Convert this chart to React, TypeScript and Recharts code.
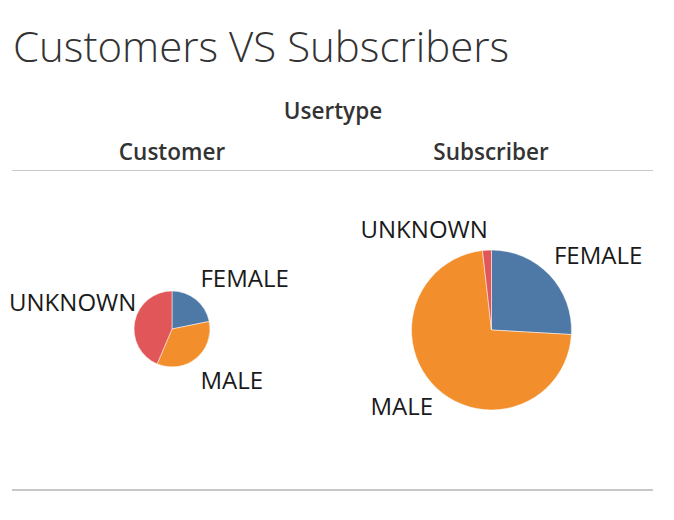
import { Cell, Pie, PieChart } from 'recharts';

const genders = ['FEMALE', 'MALE', 'UNKNOWN'];
const customerShare = [21.8, 34.6, 43.6];
const subscriberShare = [25.9, 72.3, 1.8];
const genderColors = ['#4e79a7', '#f28e2b', '#e15759'];

const customerData = genders.map((g, i) => ({ name: g, value: customerShare[i] }));
const subscriberData = genders.map((g, i) => ({ name: g, value: subscriberShare[i] }));

const RAD = Math.PI / 180;
const FONT = '"Open Sans", sans-serif';

// tableau-ish label placement: outside the slice, nudged per slice
type Nudge = { dx: number; dy: number; anchor?: 'start' | 'end' };

function makeLabel(nudges: Record<string, Nudge>, dist: number) {
  return (props: any) => {
    const { cx, cy, midAngle, outerRadius, name } = props;
    const r = outerRadius + dist;
    const x = cx + r * Math.cos(-midAngle * RAD);
    const y = cy + r * Math.sin(-midAngle * RAD);
    const n = nudges[name] || { dx: 0, dy: 0 };
    const anchor = n.anchor || (x >= cx ? 'start' : 'end');
    return (
      <text
        x={x + n.dx}
        y={y + n.dy}
        textAnchor={anchor}
        dominantBaseline="central"
        fill="#1a1a1a"
        style={{ fontFamily: FONT, fontSize: 24 }}
      >
        {name}
      </text>
    );
  };
}

const customerLabel = makeLabel(
  {
    FEMALE: { dx: -12, dy: -2 },
    MALE: { dx: -12, dy: 1 },
    UNKNOWN: { dx: 27, dy: -15, anchor: 'end' },
  },
  26,
);
const subscriberLabel = makeLabel(
  {
    FEMALE: { dx: -11, dy: -6 },
    MALE: { dx: 11, dy: 2 },
    UNKNOWN: { dx: 2, dy: -1, anchor: 'end' },
  },
  21,
);

const header: React.CSSProperties = {
  position: 'absolute',
  fontFamily: FONT,
  fontWeight: 600,
  fontSize: 22.5,
  color: '#333',
  transform: 'translateX(-50%)',
  whiteSpace: 'nowrap',
  lineHeight: '24px',
};

export default function App() {
  return (
    <div style={{ position: 'absolute', left: 0, top: 0, width: 674, height: 520, background: '#fff' }}>
      <div
        style={{
          position: 'absolute',
          left: 13,
          top: 18,
          fontFamily: FONT,
          fontWeight: 300,
          fontSize: 42,
          color: '#333',
          lineHeight: '56px',
          whiteSpace: 'nowrap',
        }}
      >
        Customers VS Subscribers
      </div>
      <div style={{ ...header, left: 333, top: 99 }}>Usertype</div>
      <div style={{ ...header, left: 172, top: 140 }}>Customer</div>
      <div style={{ ...header, left: 491, top: 140 }}>Subscriber</div>
      <div style={{ position: 'absolute', left: 12, top: 170, width: 641, height: 1, background: '#c8c8c8' }} />
      <div style={{ position: 'absolute', left: 12, top: 489, width: 641, height: 2, background: '#c8c8c8' }} />

      <div style={{ position: 'absolute', left: 0, top: 0 }}>
        <PieChart width={674} height={520} margin={{ top: 0, right: 0, bottom: 0, left: 0 }}>
          <Pie
            data={customerData}
            dataKey="value"
            nameKey="name"
            cx={172}
            cy={329}
            outerRadius={38}
            startAngle={90}
            endAngle={-270}
            stroke="#fff"
            strokeWidth={0.5}
            labelLine={false}
            label={customerLabel}
            isAnimationActive={false}
          >
            {customerData.map((d, i) => (
              <Cell key={d.name} fill={genderColors[i]} />
            ))}
          </Pie>
          <Pie
            data={subscriberData}
            dataKey="value"
            nameKey="name"
            cx={491.5}
            cy={330}
            outerRadius={80}
            startAngle={90}
            endAngle={-270}
            stroke="#fff"
            strokeWidth={0.5}
            labelLine={false}
            label={subscriberLabel}
            isAnimationActive={false}
          >
            {subscriberData.map((d, i) => (
              <Cell key={d.name} fill={genderColors[i]} />
            ))}
          </Pie>
        </PieChart>
      </div>
    </div>
  );
}
